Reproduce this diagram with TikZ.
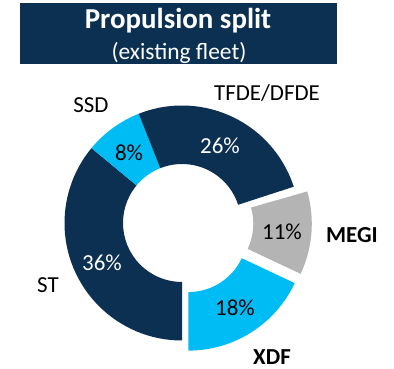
\documentclass[tikz,border=0pt]{standalone}
\usepackage{fontspec}
\setmainfont{Carlito}
\definecolor{navy}{HTML}{0C3052}
\definecolor{lblue}{HTML}{00BCF4}
\definecolor{lgray}{HTML}{B4B4B4}
\begin{document}
\begin{tikzpicture}[x=1bp,y=1bp,
  lbl/.style={inner sep=0pt,font=\fontsize{23}{26}\selectfont},
  blbl/.style={lbl,font=\fontsize{23}{26}\selectfont\bfseries},
  wlbl/.style={lbl,text=white}]
\useasboundingbox (0,0) rectangle (394,369);
\def\Ro{117.5}
\def\Ri{59}
% ring segment: #1 colour, #2 centre, #3 start angle, #4 end angle
\newcommand\ringseg[4]{%
  \fill[#1] ([shift={(#3:\Ro)}]#2) arc[start angle=#3,end angle=#4,radius=\Ro]
    -- ([shift={(#4:\Ri)}]#2) arc[start angle=#4,end angle=#3,radius=\Ri] -- cycle;}
% title box
\fill[navy] (20,305) rectangle (337,366);
\node[inner sep=0pt,text=white,font=\fontsize{29}{32}\selectfont\bfseries] (title) at (178,348) {Propulsion split};
\node[inner sep=0pt,text=white,font=\fontsize{23.5}{26}\selectfont] (subtitle) at (179,316) {(existing fleet)};
% centres
\coordinate (C) at (182,146);
\coordinate (CM) at (194.3,145.2);
\coordinate (CX) at (188.4,135.9);
% segments
\ringseg{navy}{C}{-90}{-219.6}
\ringseg{lblue}{C}{140.4}{111.6}
\ringseg{navy}{C}{111.6}{18}
\ringseg{lgray}{CM}{16}{-25.2}
\ringseg{lblue}{CX}{-25.2}{-90}
% labels
\node[lbl] (ssd) at (91,264) {SSD};
\node[lbl] (tfde) at (267,276) {TFDE/DFDE};
\node[wlbl] (p26) at (220,223) {26\%};
\node[lbl] (p8) at (129,216) {8\%};
\node[wlbl] (p36) at (102,106) {36\%};
\node[lbl] (st) at (48,84) {ST};
\node[lbl] (p11) at (282,137) {11\%};
\node[blbl] (megi) at (352,134) {MEGI};
\node[lbl] (p18) at (235,61) {18\%};
\node[blbl] (xdf) at (272,12) {XDF};
\end{tikzpicture}
\end{document}
